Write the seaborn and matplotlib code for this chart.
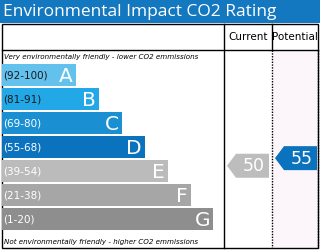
import numpy as np
import pandas as pd
import seaborn as sns
import matplotlib.pyplot as plt
from matplotlib.patches import Polygon, Rectangle

# Rating bands
bands = ['A', 'B', 'C', 'D', 'E', 'F', 'G']
ranges = ['(92-100)', '(81-91)', '(69-80)', '(55-68)', '(39-54)', '(21-38)', '(1-20)']
band_low = [92, 81, 69, 55, 39, 21, 1]
band_high = [100, 91, 80, 68, 54, 38, 20]
bar_lengths = [74, 97, 120, 143, 166, 189, 211]
bar_colors = ['#63C1EE', '#22A8E6', '#1A90D3', '#0B73BE', '#BBBBBB', '#A6A6A6', '#8E8E8E']
label_colors = ['#1a1a1a', '#1a1a1a', 'white', 'white', 'white', 'white', 'white']

current_score = 50
potential_score = 55

title = 'Environmental Impact CO2 Rating'
top_note = 'Very environmentally friendly - lower CO2 emmissions'
bottom_note = 'Not environmentally friendly - higher CO2 emmissions'

W, H = 320, 250
fig = plt.figure(figsize=(W / 100, H / 100), dpi=100)
fig.patch.set_facecolor('white')

# frame axes in pixel units
frame = fig.add_axes([0, 0, 1, 1])
frame.set_xlim(0, W)
frame.set_ylim(H, 0)
frame.axis('off')

frame.add_patch(Rectangle((0, 0), W, 22.5, color='#1478C0', lw=0))
frame.text(3, 12, title, color='white', fontsize=12.5, family='Open Sans',
           va='center', ha='left')

frame.add_patch(Rectangle((272, 50), 46, 198, facecolor='#FCF6FA', lw=0))
frame.add_patch(Rectangle((2, 24), 316, 224, fill=False, ec='black', lw=1))
frame.plot([2, 318], [50, 50], color='black', lw=1)
frame.plot([224, 224], [24, 248], color='black', lw=1)
frame.plot([272, 272], [24, 50], color='black', lw=1)
frame.plot([272, 272], [50, 248], color='black', lw=1, ls=(0, (1, 1)))
frame.plot([318, 318], [50, 248], color='black', lw=1, ls=(0, (1, 1)))
frame.text(248, 37, 'Current', fontsize=7.5, ha='center', va='center')
frame.text(295, 37, 'Potential', fontsize=7.5, ha='center', va='center')
frame.text(4, 57, top_note, fontsize=5.1, style='italic', ha='left', va='center')
frame.text(4, 242, bottom_note, fontsize=5.1, style='italic', ha='left', va='center')

# bars
df = pd.DataFrame({'band': bands, 'length': bar_lengths})
ax = fig.add_axes([2 / W, (H - 231) / H, 222 / W, 168 / H])
sns.barplot(data=df, x='length', y='band', hue='band', palette=bar_colors,
            legend=False, width=22 / 24, saturation=1, ax=ax, orient='h')
ax.set_xlim(0, 222)
ax.set_ylim(6.5, -0.5)
ax.axis('off')
for i, (b, r, L) in enumerate(zip(bands, ranges, bar_lengths)):
    ax.text(1, i, r, color=label_colors[i], fontsize=7.5, va='center', ha='left')
    ax.text(L - 3, i + 0.05, b, color='white', fontsize=14.5, va='center', ha='right')


def score_pos(s):
    for i, (lo, hi) in enumerate(zip(band_low, band_high)):
        if lo <= s <= hi:
            return i - 0.5 + (hi - s + 0.5) / (hi - lo + 1)
    return 6


# arrows
arr = fig.add_axes([224 / W, (H - 231) / H, 94 / W, 168 / H])
arr.set_xlim(0, 94)
arr.set_ylim(6.5, -0.5)
arr.axis('off')


def draw_arrow(x0, x1, score, color):
    y = score_pos(score)
    h = 0.5
    tip = 9
    pts = [(x0, y), (x0 + tip, y - h), (x1, y - h), (x1, y + h), (x0 + tip, y + h)]
    arr.add_patch(Polygon(pts, closed=True, color=color, lw=0))
    arr.text((x0 + tip + x1) / 2 + 1, y + 0.03, str(score), color='white',
             fontsize=12.5, ha='center', va='center')


draw_arrow(3, 45, current_score, '#BDBDBD')
draw_arrow(51, 93, potential_score, '#0B73BE')

fig.savefig('out.png', dpi=100)
